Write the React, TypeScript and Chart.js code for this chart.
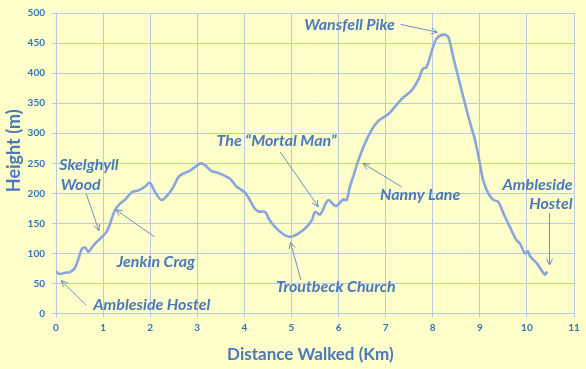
import React, { useEffect, useRef } from 'react';
import { Chart, registerables } from 'chart.js';

Chart.register(...registerables);

// Distance walked (km) and height (m) along the route
const distanceKm = [
  0, 0.08, 0.19, 0.3, 0.4, 0.48, 0.55, 0.62, 0.69, 0.76, 0.86, 0.97, 1.08, 1.15, 1.25, 1.36, 1.47,
  1.61, 1.75, 1.89, 1.99, 2.1, 2.24, 2.4, 2.5, 2.62, 2.85, 3.09, 3.31, 3.48, 3.7, 3.84, 4.01, 4.08,
  4.22, 4.3, 4.44, 4.54, 4.72, 4.9, 5.04, 5.25, 5.43, 5.5, 5.61, 5.78, 5.94, 6.1, 6.17, 6.24, 6.3,
  6.42, 6.56, 6.7, 6.85, 7.06, 7.34, 7.55, 7.7, 7.79, 7.87, 7.98, 8.08, 8.23, 8.33, 8.44, 8.58,
  8.65, 8.79, 8.9, 9.0, 9.07, 9.18, 9.29, 9.39, 9.5, 9.64, 9.78, 9.85, 9.96, 10.02, 10.07, 10.21,
  10.38, 10.43,
];
const heightM = [
  70, 66, 68, 69, 76, 92, 108, 110, 103, 110, 119, 127, 137, 150, 172, 183, 190,
  202, 205, 211, 218, 203, 189, 200, 212, 229, 238, 250, 237, 233, 224, 211, 202, 194,
  175, 170, 169, 155, 139, 129, 129, 139, 155, 169, 165, 189, 179, 190, 189, 211, 225,
  255, 283, 305, 321, 332, 357, 371, 390, 407, 410, 437, 457, 464, 460, 425, 382,
  360, 318, 288, 250, 222, 200, 189, 186, 167, 144, 122, 117, 100, 104, 95, 84,
  65, 70,
];

const xAxisTitle = 'Distance Walked (Km)';
const yAxisTitle = 'Height (m)';
const xMin = 0, xMax = 11, xStep = 1;
const yMin = 0, yMax = 500, yStep = 50;

// Labels: text lines, anchor (data units), alignment
const labelTexts = [
  'Skelghyll', 'Wood', 'Jenkin Crag', 'Ambleside Hostel', 'Troutbeck Church',
  'The \u201CMortal Man\u201D', 'Nanny Lane', 'Wansfell Pike', 'Ambleside', 'Hostel',
];
const labelX = [0.07, 0.1, 1.29, 0.79, 4.67, 3.41, 6.88, 5.27, 10.97, 10.97];
const labelY = [247, 215, 86, 14, 44, 288, 197, 480, 215, 182];
const labelAlign = ['left', 'left', 'left', 'left', 'left', 'left', 'left', 'left', 'right', 'right'];

// Arrows: from (x1,y1) to (x2,y2) in data units
const arrowX1 = [0.64, 2.09, 0.64, 5.2, 4.76, 7.34, 7.32, 10.48];
const arrowY1 = [200, 128, 14, 56, 269, 211, 481, 167];
const arrowX2 = [0.91, 1.27, 0.11, 4.98, 5.57, 6.52, 8.1, 10.48];
const arrowY2 = [138, 173, 55, 119, 178, 250, 468, 81];

const BG = '#ffffcc';
const TEXT_BLUE = '#4a78bb';
const TICK_BLUE = '#2e75b6';
const GRID = '#b9cbe3';
const LINE = '#88a6dc';
const ARROW = '#6e8fc6';
const FONT = 'Lato, "Open Sans", sans-serif';

const notesPlugin = {
  id: 'notes',
  beforeDraw(chart: any) {
    const { ctx, width, height } = chart;
    ctx.save();
    ctx.fillStyle = BG;
    ctx.fillRect(0, 0, width, height);
    ctx.restore();
  },
  afterDraw(chart: any) {
    const { ctx, chartArea } = chart;
    ctx.save();
    ctx.fillStyle = TEXT_BLUE;
    ctx.textAlign = 'center';
    ctx.textBaseline = 'middle';
    ctx.font = `bold 17px ${FONT}`;
    ctx.fillText(xAxisTitle, chartArea.left + (chartArea.right - chartArea.left) * 0.491, chartArea.bottom + 40.5);
    ctx.translate(14.5, chartArea.top + (chartArea.bottom - chartArea.top) * 0.458);
    ctx.rotate(-Math.PI / 2);
    ctx.font = `bold 18px ${FONT}`;
    ctx.fillText(yAxisTitle, 0, 0);
    ctx.restore();
  },
  afterDatasetsDraw(chart: any) {
    const { ctx, scales } = chart;
    const xs = scales.x, ys = scales.y;
    ctx.save();
    ctx.strokeStyle = ARROW;
    ctx.lineWidth = 1;
    for (let i = 0; i < arrowX1.length; i++) {
      const x1 = xs.getPixelForValue(arrowX1[i]);
      const y1 = ys.getPixelForValue(arrowY1[i]);
      const x2 = xs.getPixelForValue(arrowX2[i]);
      const y2 = ys.getPixelForValue(arrowY2[i]);
      ctx.beginPath();
      ctx.moveTo(x1, y1);
      ctx.lineTo(x2, y2);
      const ang = Math.atan2(y2 - y1, x2 - x1);
      const len = 7, spread = 0.45;
      ctx.moveTo(x2 - len * Math.cos(ang - spread), y2 - len * Math.sin(ang - spread));
      ctx.lineTo(x2, y2);
      ctx.lineTo(x2 - len * Math.cos(ang + spread), y2 - len * Math.sin(ang + spread));
      ctx.stroke();
    }
    ctx.fillStyle = TEXT_BLUE;
    ctx.font = `italic bold 16px ${FONT}`;
    ctx.textBaseline = 'middle';
    for (let i = 0; i < labelTexts.length; i++) {
      ctx.textAlign = labelAlign[i] as CanvasTextAlign;
      ctx.fillText(labelTexts[i], xs.getPixelForValue(labelX[i]), ys.getPixelForValue(labelY[i]));
    }
    ctx.restore();
  },
};

export default function App() {
  const ref = useRef<HTMLCanvasElement | null>(null);

  useEffect(() => {
    if (!ref.current) return;
    const points = distanceKm.map((d, i) => ({ x: d, y: heightM[i] }));
    const chart = new Chart(ref.current, {
      type: 'line',
      data: {
        datasets: [
          {
            data: points,
            borderColor: LINE,
            borderWidth: 2.6,
            pointRadius: 0,
            tension: 0.3,
            fill: false,
          },
        ],
      },
      options: {
        animation: false,
        responsive: false,
        maintainAspectRatio: false,
        layout: { padding: { left: 0, right: 12, top: 12, bottom: 0 } },
        plugins: { legend: { display: false }, tooltip: { enabled: false } },
        scales: {
          x: {
            type: 'linear',
            min: xMin,
            max: xMax,
            afterFit: (s: any) => { s.height = 55.3; },
            ticks: { stepSize: xStep, color: TICK_BLUE, font: { family: FONT, size: 10, weight: 'bold' }, padding: 4, maxRotation: 0 },
            grid: { color: GRID, lineWidth: 1, tickLength: 4 },
            border: { color: GRID },
            title: { display: false, text: xAxisTitle },
          },
          y: {
            type: 'linear',
            min: yMin,
            max: yMax,
            afterFit: (s: any) => { s.width = 56; },
            ticks: { stepSize: yStep, color: TICK_BLUE, font: { family: FONT, size: 10, weight: 'bold' }, padding: 7 },
            grid: { color: GRID, lineWidth: 1, tickLength: 4 },
            border: { color: GRID },
            title: { display: false, text: yAxisTitle },
          },
        },
      },
      plugins: [notesPlugin],
    });
    return () => chart.destroy();
  }, []);

  return (
    <div style={{ position: 'absolute', left: 0, top: 0, width: 586, height: 369, background: BG }}>
      <canvas ref={ref} width={586} height={369} style={{ display: 'block' }} />
    </div>
  );
}
